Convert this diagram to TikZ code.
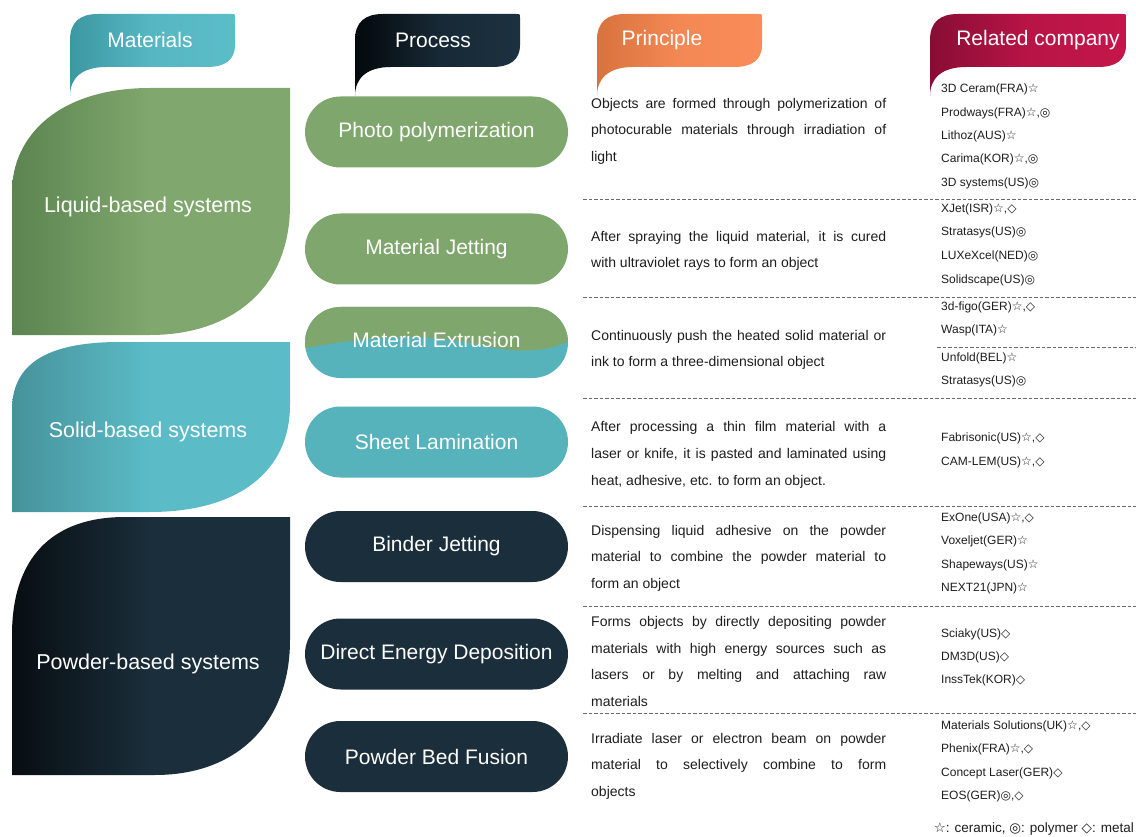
\documentclass[tikz,border=0pt]{standalone}
\usepackage{fontspec}
\setmainfont{Liberation Sans}
\newfontfamily\symf{DejaVu Sans}
\usetikzlibrary{shapes.misc}

% palette
\definecolor{leafgreenA}{HTML}{5B8450}
\definecolor{leafgreenB}{HTML}{80A76D}
\definecolor{leaftealA}{HTML}{46929B}
\definecolor{leaftealB}{HTML}{5BBCC7}
\definecolor{leafnavyA}{HTML}{080E12}
\definecolor{leafnavyB}{HTML}{1A2E3B}
\definecolor{pillgreen}{HTML}{7FA66C}
\definecolor{pillteal}{HTML}{56B2BB}
\definecolor{pillnavy}{HTML}{1B2E3B}
\definecolor{tabtealA}{HTML}{3C98A3}
\definecolor{tabtealB}{HTML}{5BBDC8}
\definecolor{tabnavyA}{HTML}{03080B}
\definecolor{tabnavyB}{HTML}{1C3140}
\definecolor{taborangeA}{HTML}{D8733E}
\definecolor{taborangeB}{HTML}{F98C58}
\definecolor{tabwineA}{HTML}{880D35}
\definecolor{tabwineB}{HTML}{C4164A}
\definecolor{rulegray}{HTML}{6A6A6A}
\definecolor{bodytext}{HTML}{1E1E1E}

% material symbols
\newcommand\cer{{\symf ☆}}
\newcommand\pol{{\symf ◎}}
\newcommand\met{{\symf ◇}}

% justified and last lines of the principle paragraphs
\newcommand\pjust[1]{\makebox[295pt][s]{#1}}
\newcommand\plast[1]{\makebox[295pt][l]{#1}}

% header tab: body with a tail hanging from its left edge
\newcommand\tabpath[2]{(#1,96) -- (#1,40) .. controls (#1,22) and ({#1+10},14) .. ({#1+28},14)
  -- ({#2-4},14) .. controls (#2,14) .. (#2,18) -- (#2,45)
  .. controls (#2,60) and ({#2-10},67) .. ({#2-28},67)
  -- ({#1+36},67) .. controls ({#1+12},67) and (#1,78) .. (#1,96) -- cycle}

\tikzset{
  title/.style={text=white, inner sep=0pt, font=\fontsize{21}{25}\selectfont},
  leaftext/.style={text=white, inner sep=0pt, font=\fontsize{21.5}{26}\selectfont},
  pill/.style={rounded rectangle, minimum width=263pt, minimum height=71pt,
    inner sep=0pt, text=white, font=\fontsize{21}{25}\selectfont},
  ptext/.style={anchor=west, inner sep=0pt, text=bodytext, text height=10pt, text depth=3pt,
    font=\fontsize{14}{17}\selectfont},
  comp/.style={anchor=west, inner sep=0pt, text=bodytext, text height=8.6pt, text depth=2.6pt,
    font=\fontsize{12}{15}\selectfont},
  sep/.style={draw=rulegray, line width=0.7pt, dash pattern=on 3.5pt off 2pt},
}

\begin{document}
\begin{tikzpicture}[x=1pt,y=-1pt]
\useasboundingbox[fill=white] (0,0) rectangle (1136,837);

% ---------- header tabs ----------
\shade[left color=tabtealA, right color=tabtealB, middle color=tabtealB!85!tabtealA] \tabpath{70}{235};
\shade[left color=tabnavyA, right color=tabnavyB, middle color=tabnavyB!80!tabnavyA] \tabpath{355}{520};
\shade[left color=taborangeA, right color=taborangeB, middle color=taborangeB!85!taborangeA] \tabpath{597}{762};
\shade[left color=tabwineA, right color=tabwineB, middle color=tabwineB!80!tabwineA] \tabpath{930}{1126};
\node[title] (tmat) at (150,40) {Materials};
\node[title] (tpro) at (433,40) {Process};
\node[title] (tpri) at (662,40) {Principle};
\node[title] (trel) at (1038,40) {Related company};

% ---------- material leaves ----------
\shade[left color=leafgreenA, right color=leafgreenB, middle color=leafgreenB]
  (12,335) -- (12,192) .. controls (12,135) and (60,88) .. (150,88) -- (290,88)
  -- (290,205) .. controls (290,290) and (230,335) .. (150,335) -- cycle;
\shade[left color=leaftealA, right color=leaftealB, middle color=leaftealB]
  (12,512) -- (12,410) .. controls (12,365) and (45,342) .. (120,342) -- (290,342)
  -- (290,405) .. controls (290,470) and (240,512) .. (150,512) -- cycle;
\shade[left color=leafnavyA, right color=leafnavyB, middle color=leafnavyB]
  (12,775) -- (12,635) .. controls (12,560) and (50,517) .. (125,517) -- (290,517)
  -- (290,640) .. controls (290,720) and (240,775) .. (155,775) -- cycle;
\node[leaftext] (mliq) at (148,207) {Liquid-based systems};
\node[leaftext] (msol) at (148,432) {Solid-based systems};
\node[leaftext] (mpow) at (148,664) {Powder-based systems};

% ---------- process pills ----------
\node[pill, fill=pillgreen] (pphoto) at (436.5,132) {Photo polymerization};
\node[pill, fill=pillgreen] (pjet) at (436.5,249) {Material Jetting};
% extrusion: green over teal, split by a wave
\fill[pillteal, rounded corners=35.5pt] (305,307) rectangle (568,378);
\begin{scope}
  \clip[rounded corners=35.5pt] (305,307) rectangle (568,378);
  \fill[pillgreen] (300,300) -- (300,349) .. controls (380,334) and (430,334) .. (480,345)
    .. controls (520,354) and (550,352) .. (572,339) -- (572,300) -- cycle;
\end{scope}
\node[pill] (pext) at (436.5,342.5) {\raisebox{5pt}{Material Extrusion}};
\node[pill, fill=pillteal] (psheet) at (436.5,442) {Sheet Lamination};
\node[pill, fill=pillnavy] (pbind) at (436.5,546.5) {Binder Jetting};
\node[pill, fill=pillnavy] (pded) at (436.5,654) {Direct Energy Deposition};
\node[pill, fill=pillnavy] (ppbf) at (436.5,756.5) {Powder Bed Fusion};

% ---------- row separators ----------
\foreach \i/\y in {1/199,2/297,3/398,4/506,5/606,6/713} {
  \coordinate (sl\i) at (583,\y);
  \coordinate (sr\i) at (1136,\y);
  \draw[sep] (sl\i) -- (sr\i);
}
\coordinate (sm1) at (937,347);
\coordinate (sm2) at (1136,347);
\draw[sep] (sm1) -- (sm2);

% ---------- principle texts ----------
\foreach \y/\t [count=\k] in {
  105/{\pjust{Objects are formed through polymerization of}},
  131/{\pjust{photocurable materials through irradiation of}},
  158/{\plast{light}},
  238/{\pjust{After spraying the liquid material, it is cured}},
  264/{\plast{with ultraviolet rays to form an object}},
  337/{\pjust{Continuously push the heated solid material or}},
  363/{\plast{ink to form a three-dimensional object}},
  428/{\pjust{After processing a thin film material with a}},
  455/{\pjust{laser or knife, it is pasted and laminated using}},
  482/{\plast{heat, adhesive, etc. to form an object.}},
  532/{\pjust{Dispensing liquid adhesive on the powder}},
  558/{\pjust{material to combine the powder material to}},
  585/{\plast{form an object}},
  623/{\pjust{Forms objects by directly depositing powder}},
  650/{\pjust{materials with high energy sources such as}},
  676/{\pjust{lasers or by melting and attaching raw}},
  703/{\plast{materials}},
  740/{\pjust{Irradiate laser or electron beam on powder}},
  766/{\pjust{material to selectively combine to form}},
  793/{\plast{objects}}
} \node[ptext] (pr\k) at (591,\y) {\t};

% ---------- related companies ----------
\foreach \y/\t [count=\k] in {
  90/{3D Ceram(FRA)\cer},
  114/{Prodways(FRA)\cer,\pol},
  137/{Lithoz(AUS)\cer},
  160/{Carima(KOR)\cer,\pol},
  184/{3D systems(US)\pol},
  210/{XJet(ISR)\cer,\met},
  233/{Stratasys(US)\pol},
  257/{LUXeXcel(NED)\pol},
  281/{Solidscape(US)\pol},
  308/{3d-figo(GER)\cer,\met},
  331/{Wasp(ITA)\cer},
  358/{Unfold(BEL)\cer},
  381/{Stratasys(US)\pol},
  438/{Fabrisonic(US)\cer,\met},
  462/{CAM-LEM(US)\cer,\met},
  518/{ExOne(USA)\cer,\met},
  541/{Voxeljet(GER)\cer},
  565/{Shapeways(US)\cer},
  588/{NEXT21(JPN)\cer},
  634/{Sciaky(US)\met},
  657/{DM3D(US)\met},
  680/{InssTek(KOR)\met},
  726/{Materials Solutions(UK)\cer,\met},
  749/{Phenix(FRA)\cer,\met},
  773/{Concept Laser(GER)\met},
  796/{EOS(GER)\pol,\met}
} \node[comp] (co\k) at (941,\y) {\t};

% ---------- legend ----------
\node[anchor=east, inner sep=0pt, text=bodytext, font=\fontsize{13.5}{16}\selectfont] (legend)
  at (1134,829) {\cer: ceramic, \pol: polymer \met: metal};
\end{tikzpicture}
\end{document}
